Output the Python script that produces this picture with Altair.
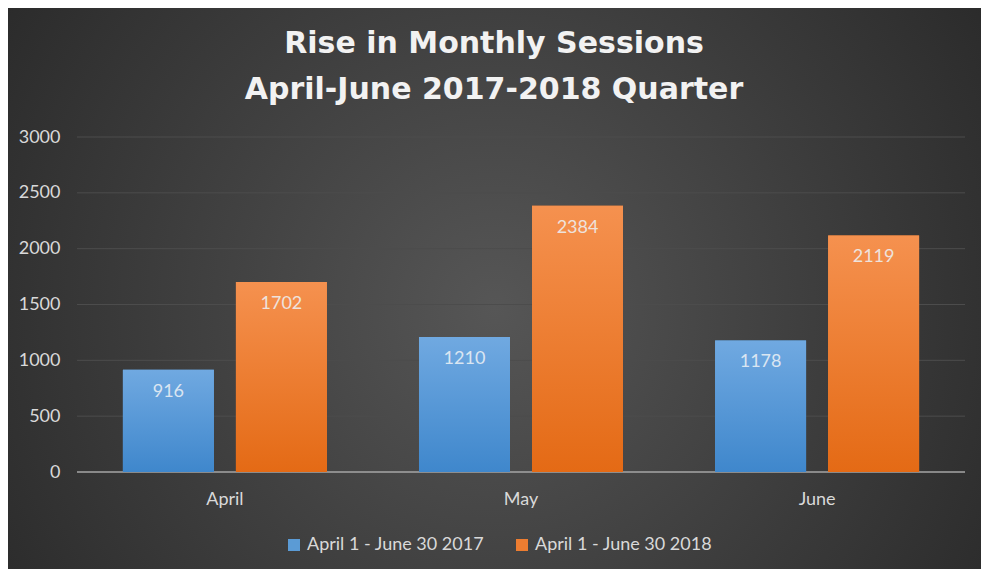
import altair as alt
import pandas as pd

TITLE_LINES = ["Rise in Monthly Sessions", "April-June 2017-2018 Quarter"]
MONTHS = ["April", "May", "June"]
SERIES = ["April 1 - June 30 2017", "April 1 - June 30 2018"]
S2017 = [916, 1210, 1178]
S2018 = [1702, 2384, 2119]
Y_TICKS = [0, 500, 1000, 1500, 2000, 2500, 3000]

rows = []
for m, a, b in zip(MONTHS, S2017, S2018):
    rows.append({"month": m, "series": SERIES[0], "value": a})
    rows.append({"month": m, "series": SERIES[1], "value": b})
df = pd.DataFrame(rows)
grid_df = pd.DataFrame({"value": [t for t in Y_TICKS if t > 0]})
zero_df = pd.DataFrame({"value": [0]})
one = pd.DataFrame({"a": [0]})

W, H = 888, 335
PL, PT, PR, PB = 69, 129, 16, 97
FONT = "Lato"
LIGHT = "#d9d9d9"

bg = alt.Chart(one).mark_rect(
    fill=alt.RadialGradient(
        gradient="radial",
        stops=[alt.GradientStop(color="#565656", offset=0),
               alt.GradientStop(color="#393939", offset=0.55),
               alt.GradientStop(color="#222222", offset=1)],
        x1=0.5, y1=0.52, r1=0, x2=0.5, y2=0.52, r2=0.72)
).encode(x=alt.value(-PL), x2=alt.value(W + PR), y=alt.value(-PT), y2=alt.value(H + PB))

yscale = alt.Scale(domain=[0, 3000], nice=False)
yaxis = alt.Axis(values=Y_TICKS, format="d", grid=False, ticks=False, domain=False,
                 labelFont=FONT, labelFontSize=18, labelColor=LIGHT,
                 labelPadding=17, zindex=1)

grid = alt.Chart(grid_df).mark_rule(color="#4c4c4c", strokeWidth=1).encode(
    y=alt.Y("value:Q", scale=yscale, title=None, axis=yaxis))
zero = alt.Chart(zero_df).mark_rule(color="#a6a6a6", strokeWidth=1.5).encode(
    y=alt.Y("value:Q"))

xenc = alt.X("month:N", sort=MONTHS, title=None,
             scale=alt.Scale(paddingInner=0.311, paddingOuter=0.155),
             axis=alt.Axis(labelAngle=0, ticks=False, domain=False, labelFont=FONT,
                           labelFontSize=18, labelColor=LIGHT, labelPadding=18, zindex=1))
xoff = alt.XOffset("series:N", sort=SERIES, scale=alt.Scale(domain=SERIES, paddingInner=0.195))

base_bars = alt.Chart(df).mark_bar().encode(
    x=xenc, xOffset=xoff, y=alt.Y("value:Q"),
    color=alt.Color("series:N", sort=SERIES, title=None,
                    scale=alt.Scale(domain=SERIES, range=["#5b9bd5", "#ed7d31"]),
                    legend=alt.Legend(orient="none", direction="horizontal",
                                      legendX=208, legendY=399, symbolType="square",
                                      symbolSize=144, symbolStrokeWidth=0,
                                      labelFont=FONT, labelFontSize=18, labelColor=LIGHT,
                                      labelOffset=4, columnPadding=28, labelLimit=400)))

def grad_bar(name, top, bottom):
    return alt.Chart(df).transform_filter(alt.datum.series == name).mark_bar(
        fill=alt.LinearGradient(gradient="linear",
                                stops=[alt.GradientStop(color=top, offset=0),
                                       alt.GradientStop(color=bottom, offset=1)],
                                x1=0, y1=0, x2=0, y2=1)
    ).encode(x=alt.X("month:N", sort=MONTHS), xOffset=alt.XOffset("series:N", sort=SERIES),
             y=alt.Y("value:Q"))

blue = grad_bar(SERIES[0], "#70a9e1", "#3f87cc")
orange = grad_bar(SERIES[1], "#f5914f", "#e46a15")

labels = alt.Chart(df).mark_text(font=FONT, fontSize=18, color="#eef2f6", opacity=0.85,
                                 baseline="middle", dy=22).encode(
    x=alt.X("month:N", sort=MONTHS), xOffset=alt.XOffset("series:N", sort=SERIES),
    y=alt.Y("value:Q"), text=alt.Text("value:Q"))

def title_line(txt, yv):
    return alt.Chart(one).mark_text(text=txt, font="DejaVu Sans", fontSize=30, fontWeight="bold",
                                    color="#f2f2f2", align="center",
                                    baseline="alphabetic").encode(
        x=alt.value(417), y=alt.value(yv))

chart = alt.layer(
    bg, grid, zero, base_bars, blue, orange, labels,
    title_line(TITLE_LINES[0], -84), title_line(TITLE_LINES[1], -38)
).properties(
    width=W, height=H,
    autosize=alt.AutoSizeParams(type="none"),
    padding={"left": PL, "top": PT, "right": PR, "bottom": PB},
    background="#2a2a2a"
).configure_view(stroke=None)

chart.save("out.html", embed_options={"renderer": "svg", "actions": False})
